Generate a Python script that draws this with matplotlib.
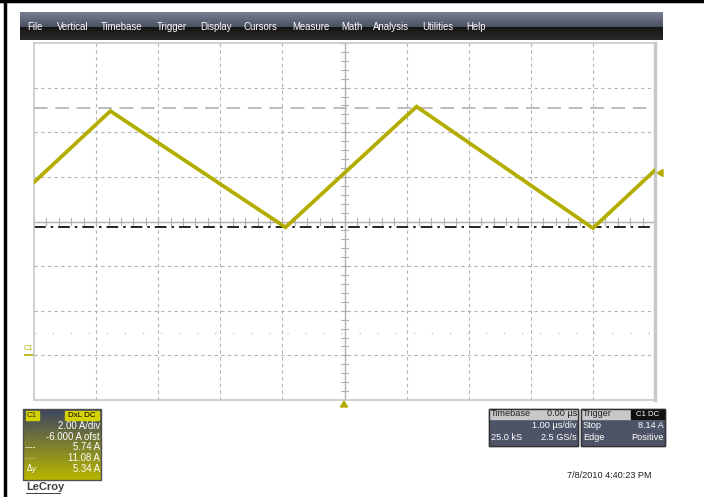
import matplotlib
matplotlib.use("Agg")
from matplotlib import pyplot as plt
from matplotlib.patches import Rectangle, Polygon
import numpy as np

# waveform corners (time in us, current in A)
time_us = [-5.0, -3.77, -0.95, 1.16, 4.0, 5.0]
current_a = [7.76, 10.95, 5.74, 11.15, 5.70, 8.3]

menu_items = ["File", "Vertical", "Timebase", "Trigger", "Display", "Cursors",
              "Measure", "Math", "Analysis", "Utilities", "Help"]
menu_x = [27, 57, 101, 157, 200, 244, 292, 341, 373, 422, 466]

cursor1 = 5.74
cursor2 = 11.08
trig_level = 8.14
c1_lines = ["2.00 A/div", "-6.000 A ofst", "5.74 A", "11.08 A", "5.34 A"]

TRACE = "#b3ad00"
W, H = 704, 497

fig = plt.figure(figsize=(W / 100, H / 100), dpi=100)
fig.patch.set_facecolor("white")
plt.rcParams["font.family"] = ["Liberation Sans", "DejaVu Sans"]

# pixel axes for the screen furniture
bg = fig.add_axes([0, 0, 1, 1])
bg.set_xlim(0, W)
bg.set_ylim(H, 0)
bg.axis("off")

# outer black frame (top + left)
bg.plot([0, W], [1, 1], color="black", lw=2.5)
bg.plot([5, 5], [0, H], color="black", lw=2.5)


def gradient(ax, x0, x1, y0, y1, c_top, c_bot, zorder=1):
    a = np.linspace(0, 1, 64)[:, None, None]
    top = np.array(matplotlib.colors.to_rgb(c_top))[None, None, :]
    bot = np.array(matplotlib.colors.to_rgb(c_bot))[None, None, :]
    img = top * (1 - a) + bot * a
    ax.imshow(img, extent=(x0, x1, y1, y0), aspect="auto", zorder=zorder,
              interpolation="bilinear")


# menu bar
gradient(bg, 20, 663, 12, 27, "#7a8094", "#4a5060", zorder=2)
gradient(bg, 20, 663, 27, 40, "#151515", "#2a2a2a", zorder=2)
for name, x in zip(menu_items, menu_x):
    bg.text(x, 26.5, name, color="white", fontsize=6.9, va="center", ha="left",
            zorder=3)

# grid axes
ax = fig.add_axes([34 / W, (H - 400) / H, 621 / W, 357 / H])
ax.set_xlim(-5, 5)
ax.set_ylim(-2, 14)
ax.set_facecolor("white")
for s in ax.spines.values():
    s.set_color("#c8c8c8")
    s.set_linewidth(1.2)
ax.spines["right"].set_linewidth(2.5)
ax.set_xticks([])
ax.set_yticks([])

for t in range(-4, 5):
    if t != 0:
        ax.axvline(t, color="#b4b4b4", lw=0.8, ls=(0, (3, 3)), zorder=1)
for v in [0, 2, 4, 8, 10, 12]:
    ax.axhline(v, color="#b4b4b4", lw=0.8, ls=(0, (3, 3)), zorder=1)

# center axis with minor ticks
ax.axvline(0, color="#b0b0b0", lw=1.0, zorder=1)
ax.axhline(6, color="#b0b0b0", lw=1.0, zorder=1)
for t in np.arange(-5, 5.01, 0.2):
    ax.plot([t, t], [6 - 0.14, 6 + 0.14], color="#b0b0b0", lw=0.8, zorder=1)
for v in np.arange(-2, 14.01, 0.4):
    ax.plot([-0.05, 0.05], [v, v], color="#b0b0b0", lw=0.8, zorder=1)

# faint dotted line
ax.axhline(1, color="#c8c8c8", lw=1.0, ls=(0, (1, 12)), zorder=1)

# cursors
ax.axhline(cursor2, color="#bcbcbc", lw=1.4, ls=(0, (7, 4)), zorder=2)
ax.axhline(cursor1, color="black", lw=1.2, ls=(0, (7, 3, 1.5, 3)), zorder=2)

# trace
ax.plot(time_us, current_a, color=TRACE, lw=2.7, zorder=3,
        solid_joinstyle="miter")

# markers around the grid
bg.add_patch(Polygon([[657, 173], [663, 169.5], [663, 176.5]], closed=True,
                     color=TRACE, zorder=4))
bg.add_patch(Polygon([[344, 401], [340.5, 407], [347.5, 407]], closed=True,
                     color=TRACE, zorder=4))
bg.text(24, 349, "C1", color=TRACE, fontsize=5.5, ha="left", va="center")
bg.plot([25, 34], [355, 355], color=TRACE, lw=1.2)

# C1 info box
gradient(bg, 23, 101, 409, 480, "#3d4660", "#b8b600", zorder=2)
bg.add_patch(Rectangle((23, 409), 78, 71, fill=False, ec="#505050", lw=1,
                       zorder=3))
bg.add_patch(Rectangle((26, 411), 13, 9, color="#d6d200", zorder=3))
bg.text(27, 415.5, "C1", fontsize=5.8, color="#303000", va="center", zorder=4)
bg.add_patch(Rectangle((65, 411), 34, 9, color="#d6d200", zorder=3))
bg.text(82, 415.5, "DxL DC", fontsize=5.8, color="black", va="center",
        ha="center", zorder=4)
rows_y = [426, 436.5, 447, 458, 468.5]
for txt, y in zip(c1_lines, rows_y):
    bg.text(100, y, txt, fontsize=6.9, color="white", ha="right", va="center",
            zorder=4)
bg.plot([25, 35], [447, 447], color="white", lw=0.6, ls=(0, (2, 1)), zorder=4)
bg.plot([25, 36], [458, 458], color="#dddddd", lw=0.6, ls=(0, (0.5, 1)),
        zorder=4)
bg.text(26, 468.5, r"$\Delta$y", fontsize=5.8, color="white", va="center",
        zorder=4, style="italic")
bg.text(26, 487, "LeCroy", fontsize=8, color="#404040", va="center",
        ha="left", weight="bold")
bg.plot([26, 60], [493, 493], color="#404040", lw=0.7)

# timebase and trigger boxes
for x0, x1 in [(489, 578), (581, 665)]:
    bg.add_patch(Rectangle((x0, 409), x1 - x0, 37, color="#4e5468", zorder=2))
    bg.add_patch(Rectangle((x0, 409), x1 - x0, 10, color="#c8c8c8", zorder=3))
    bg.add_patch(Rectangle((x0, 409), x1 - x0, 37, fill=False, ec="#303030",
                           lw=1, zorder=4))
bg.text(491, 414, "Timebase", fontsize=6.6, color="#202020", va="center",
        zorder=5)
bg.text(577, 414, "0.00 \u00b5s", fontsize=6.6, color="#202020", va="center",
        ha="right", zorder=5)
bg.text(577, 425.5, "1.00 \u00b5s/div", fontsize=6.6, color="white",
        va="center", ha="right", zorder=5)
bg.text(491, 437, "25.0 kS", fontsize=6.6, color="white", va="center", zorder=5)
bg.text(577, 437, "2.5 GS/s", fontsize=6.6, color="white", va="center",
        ha="right", zorder=5)
bg.text(583, 414, "Trigger", fontsize=6.6, color="#202020", va="center",
        zorder=5)
bg.add_patch(Rectangle((631, 410), 33, 8.5, color="#101010", zorder=4))
bg.text(647.5, 414, "C1 DC", fontsize=5.6, color="white", va="center",
        ha="center", zorder=5)
bg.text(583, 425.5, "Stop", fontsize=6.6, color="white", va="center", zorder=5)
bg.text(664, 425.5, "8.14 A", fontsize=6.6, color="white", va="center",
        ha="right", zorder=5)
bg.text(583, 437, "Edge", fontsize=6.6, color="white", va="center", zorder=5)
bg.text(664, 437, "Positive", fontsize=6.6, color="white", va="center",
        ha="right", zorder=5)

bg.text(652, 476, "7/8/2010 4:40:23 PM", fontsize=6.6, color="#202020",
        ha="right", va="center")

fig.savefig("out.png", dpi=100)
